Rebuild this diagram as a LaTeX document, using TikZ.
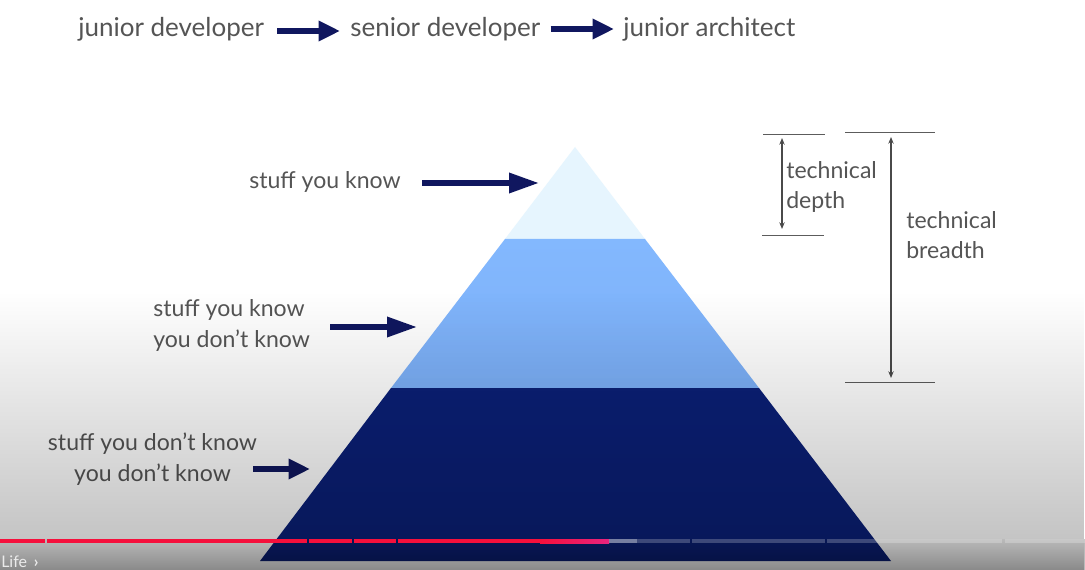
\documentclass[tikz,border=0pt]{standalone}
\usepackage{fontspec}
\setmainfont{Lato}
\usetikzlibrary{arrows.meta,fadings}

\definecolor{navy}{HTML}{10175F}
\definecolor{txt}{HTML}{555555}
\definecolor{dimgray}{HTML}{4A4A4A}
\definecolor{tiptop}{HTML}{E6F5FE}
\definecolor{midtop}{HTML}{83B8FE}
\definecolor{midbot}{HTML}{7CB0F8}
\definecolor{deep}{HTML}{0B2077}
\definecolor{ytred}{HTML}{F5103C}
\definecolor{ytpink}{HTML}{E8247E}

\tikzfading[name=fade down, top color=transparent!100, bottom color=transparent!0]

\tikzset{
  lbl/.style={inner sep=0pt, text=txt, font=\fontsize{17.3}{21}\selectfont},
  toplbl/.style={inner sep=0pt, text=txt, font=\fontsize{19.5}{24}\selectfont},
  fatarrow/.style={draw=navy, line width=4.1pt, -{Triangle[length=22.5pt,width=14.5pt]}},
  fatarrowsmall/.style={draw=navy, line width=4.1pt, -{Triangle[length=16pt,width=14.5pt]}},
  dimarrow/.style={draw=dimgray, line width=0.9pt, {Stealth[length=5pt,width=4pt]}-{Stealth[length=5pt,width=4pt]}},
  dimline/.style={draw=dimgray!90, line width=1pt},
  played/.style={fill=ytred},
  unplayed/.style={fill=white, fill opacity=0.22},
  buffered/.style={fill=white, fill opacity=0.45}
}

\begin{document}
\begin{tikzpicture}[x=0.75pt,y=-0.75pt]
\clip (0,0) rectangle (1085,570);
\fill[white] (0,0) rectangle (1085,570);

% career path
\node[toplbl, anchor=base west] (jd) at (78,37) {junior developer};
\node[toplbl, anchor=base west] (sd) at (350,37) {senior developer};
\node[toplbl, anchor=base west] (ja) at (623,37) {junior architect};
\draw[fatarrowsmall] (jd.east |- 0,31) ++(13,0) coordinate (p1s) -- (340,31) coordinate (p1e);
\draw[fatarrowsmall] (sd.east |- 0,29) ++(10,0) coordinate (p2s) -- (614,29) coordinate (p2e);

% pyramid corners
\coordinate (apex) at (575,147);
\coordinate (l1) at (505,239);
\coordinate (r1) at (645,239);
\coordinate (l2) at (391,388);
\coordinate (r2) at (759,388);
\coordinate (l3) at (260,561);
\coordinate (r3) at (891,561);

\fill[tiptop] (apex) -- (r1) -- (l1) -- cycle;
\shade[top color=midtop, bottom color=midbot] (l1) -- (r1) -- (r2) -- (l2) -- cycle;
\fill[deep] (l2) -- (r2) -- (r3) -- (l3) -- cycle;

% layer labels
\node[lbl, anchor=base west] (k1) at (249,189) {stuff you know};
\node[lbl, anchor=base west] (k2a) at (153,316) {stuff you know};
\node[lbl, anchor=base west] (k2b) at (153,347) {you don’t know};
\node[lbl, anchor=base] (k3a) at (152.5,450) {stuff you don’t know};
\node[lbl, anchor=base] (k3b) at (152.5,481) {you don’t know};

\coordinate (a1s) at (422,183);
\coordinate (a1e) at (539,183);
\coordinate (a2s) at (330,327);
\coordinate (a2e) at (417,327);
\coordinate (a3s) at (253,469);
\coordinate (a3e) at (310,469);
\draw[fatarrow] (a1s) -- (a1e);
\draw[fatarrow] (a2s) -- (a2e);
\draw[fatarrowsmall] (a3s) -- (a3e);

% depth and breadth measures
\coordinate (dt1) at (763,134.5);
\coordinate (dt2) at (825,134.5);
\coordinate (db1) at (762,235.5);
\coordinate (db2) at (824,235.5);
\draw[dimline] (dt1) -- (dt2);
\draw[dimline] (db1) -- (db2);
\draw[dimarrow] (782,138) coordinate (dA) -- (782,229) coordinate (dB);
\node[lbl, anchor=base west] (td1) at (786,179) {technical};
\node[lbl, anchor=base west] (td2) at (786,209) {depth};

\coordinate (bt1) at (845,132.5);
\coordinate (bt2) at (935,132.5);
\coordinate (bb1) at (845,382.5);
\coordinate (bb2) at (935,382.5);
\draw[dimline] (bt1) -- (bt2);
\draw[dimline] (bb1) -- (bb2);
\draw[dimarrow] (891,137) coordinate (bA) -- (891,378) coordinate (bB);
\node[lbl, anchor=base west] (tb1) at (906,228.5) {technical};
\node[lbl, anchor=base west] (tb2) at (906,258.5) {breadth};

% player overlay: darkening toward the bottom
\fill[black, fill opacity=0.23, path fading=fade down] (0,292) rectangle (1085,539);
\fill[black, fill opacity=0.27] (0,539) rectangle (1085,570);
\fill[black, fill opacity=0.26, path fading=fade down] (0,539) rectangle (1085,570);

% progress bar
\fill[played] (0,539) rectangle (45,543);
\fill[played] (47,539) rectangle (307,543);
\fill[played] (309,539) rectangle (352,543);
\fill[played] (354,539) rectangle (396,543);
\fill[played] (398,539) rectangle (540,543);
\shade[left color=ytred, right color=ytpink] (540,539) rectangle (609,543);
\fill[buffered] (609,539) rectangle (637,543);
\fill[unplayed] (637,539) rectangle (690,543);
\fill[unplayed] (692,539) rectangle (825,543);
\fill[unplayed] (827,539) rectangle (1002,543);
\fill[unplayed] (1005,539) rectangle (1085,543);

\node[inner sep=0pt, anchor=base west, text=white!92!black, font=\fontsize{12}{14}\selectfont] (life) at (1,567) {Life \,\textbf{›}};
\end{tikzpicture}
\end{document}
